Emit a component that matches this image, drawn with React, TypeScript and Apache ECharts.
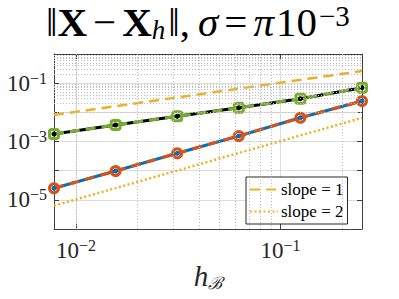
import React, { useEffect, useRef } from 'react';
import * as echarts from 'echarts';

// mesh sizes h_B
const hValues = [1 / 128, 1 / 64, 1 / 32, 1 / 16, 1 / 8, 1 / 4];
// error series
const errBlue = [2.49e-5, 9.75e-5, 3.94e-4, 1.55e-3, 6.55e-3, 2.45e-2];
const errOrange = [2.49e-5, 9.75e-5, 3.94e-4, 1.55e-3, 6.55e-3, 2.45e-2];
const errBlack = [1.81e-3, 3.68e-3, 7.33e-3, 1.44e-2, 2.94e-2, 7.0e-2];
const errGreen = [1.81e-3, 3.68e-3, 7.33e-3, 1.44e-2, 2.94e-2, 7.0e-2];
// reference slopes
const slopeH = [1 / 128, 1 / 4];
const slope1 = [8.1e-3, 0.26];
const slope2 = [6.3e-6, 6.45e-3];
// tick labels (exponents)
const xLabelExps = [-2, -1];
const yLabelExps = [-5, -3, -1];
// minor grid
const minorMantissas = [2, 3, 4, 5, 6, 7, 8, 9];
const xDecadeExps = [-3, -2, -1];
const yDecadeExps = [-6, -5, -4, -3, -2, -1];

const X_MIN = 1 / 128;
const X_MAX = 1 / 4;
const Y_MIN = 1e-6;
const Y_MAX = 1;

const SERIF = '"Liberation Serif", "DejaVu Serif", serif';

function isPow10(v: number) {
  const e = Math.log10(v);
  return Math.abs(e - Math.round(e)) < 1e-6;
}

function minorValues(exps: number[], lo: number, hi: number) {
  const out: number[] = [];
  exps.forEach((e) => {
    minorMantissas.forEach((m) => {
      const v = m * Math.pow(10, e);
      if (v > lo * 1.0001 && v < hi * 0.9999) out.push(v);
    });
  });
  return out;
}

const labelRich = {
  b: { fontFamily: SERIF, fontSize: 23, color: '#262626', lineHeight: 26, verticalAlign: 'middle' },
  s: { fontFamily: SERIF, fontSize: 16, color: '#262626', lineHeight: 14, verticalAlign: 'top' },
};

const T = 41;
const titleBase = { fontFamily: SERIF, fontSize: T, fontWeight: 'normal', color: '#000', lineHeight: 42, verticalAlign: 'middle' };

export default function App() {
  const ref = useRef<HTMLDivElement>(null);
  useEffect(() => {
    if (!ref.current) return;
    const chart = echarts.init(ref.current, null, { renderer: 'svg' });
    const pair = (xs: number[], ys: number[]) => xs.map((x, i) => [x, ys[i]]);
    const xMinor = minorValues(xDecadeExps, X_MIN, X_MAX);
    const yMinor = minorValues(yDecadeExps, Y_MIN, Y_MAX);

    const axisColor = '#404040';
    const gridColor = '#dcdcdc';

    const option: any = {
      animation: false,
      backgroundColor: '#ffffff',
      title: {
        left: 46,
        top: 1,
        padding: 0,
        text: '{n|‖}{b|X}{op|−}{b|X}{sub|h}{n|‖,}{i|σ}{op|=}{p|π}{n|10}{sup|−3}',
        textStyle: {
          fontWeight: 'normal',
          rich: {
            n: { ...titleBase },
            op: { ...titleBase, padding: [0, 6, 0, 6] },
            b: { ...titleBase, fontWeight: 'bold' },
            i: { ...titleBase, fontStyle: 'italic', padding: [0, 0, 0, 8] },
            p: { ...titleBase, fontStyle: 'italic', padding: [0, 2, 0, 0] },
            sub: { ...titleBase, fontSize: 27, fontStyle: 'italic', lineHeight: 14, verticalAlign: 'bottom', padding: [0, 3, 0, 0] },
            sup: { ...titleBase, fontSize: 29, lineHeight: 18, verticalAlign: 'top', padding: [0, 0, 0, 2] },
          },
        },
      },
      grid: { left: 54, top: 54, width: 308, height: 175, containLabel: false, outerBoundsMode: 'none' },
      legend: {
        orient: 'vertical',
        left: 246,
        top: 177,
        padding: [4, 4, 4, 3],
        itemGap: 5,
        itemWidth: 28,
        itemHeight: 16,
        backgroundColor: '#ffffff',
        borderColor: '#262626',
        borderWidth: 1,
        borderRadius: 0,
        data: ['slope = 1', 'slope = 2'],
        textStyle: { fontFamily: SERIF, fontSize: 17, color: '#000', padding: [0, 0, 0, -2] },
      },
      xAxis: [
        {
          type: 'log',
          logBase: 10,
          min: X_MIN,
          max: X_MAX,
          position: 'bottom',
          axisLine: { show: true, onZero: false, lineStyle: { color: axisColor, width: 1 } },
          axisTick: { show: true, inside: true, length: 5, lineStyle: { color: axisColor } },
          axisLabel: {
            margin: 8,
            formatter: (v: number) => {
              if (!isPow10(v)) return '';
              const e = Math.round(Math.log10(v));
              return xLabelExps.includes(e) ? `{b|10}{s|−${-e}}` : '';
            },
            rich: labelRich,
          },
          splitLine: { show: true, lineStyle: { color: gridColor, width: 1 } },
          name: '{i|h}{sub|ℬ}',
          nameLocation: 'middle',
          nameGap: 47,
          nameMoveOverlap: false,
          nameTextStyle: {
            verticalAlign: 'middle',
            rich: {
              i: { fontFamily: SERIF, fontSize: 29, fontStyle: 'italic', color: '#262626', lineHeight: 30, verticalAlign: 'top' },
              sub: { fontFamily: '"DejaVu Serif", serif', fontSize: 17, fontStyle: 'italic', color: '#262626', lineHeight: 12, verticalAlign: 'bottom' },
            },
          },
        },
        {
          type: 'log',
          logBase: 10,
          min: X_MIN,
          max: X_MAX,
          position: 'top',
          axisLine: { show: true, onZero: false, lineStyle: { color: axisColor, width: 1 } },
          axisTick: { show: true, inside: true, length: 5, lineStyle: { color: axisColor } },
          axisLabel: { show: false },
          splitLine: { show: false },
        },
      ],
      yAxis: [
        {
          type: 'log',
          logBase: 10,
          min: Y_MIN,
          max: Y_MAX,
          position: 'left',
          axisLine: { show: true, onZero: false, lineStyle: { color: axisColor, width: 1 } },
          axisTick: { show: true, inside: true, length: 5, lineStyle: { color: axisColor } },
          axisLabel: {
            margin: 7,
            formatter: (v: number) => {
              if (!isPow10(v)) return '';
              const e = Math.round(Math.log10(v));
              return yLabelExps.includes(e) ? `{b|10}{s|−${-e}}` : '';
            },
            rich: labelRich,
          },
          splitLine: { show: true, lineStyle: { color: gridColor, width: 1 } },
        },
        {
          type: 'log',
          logBase: 10,
          min: Y_MIN,
          max: Y_MAX,
          position: 'right',
          axisLine: { show: true, onZero: false, lineStyle: { color: axisColor, width: 1 } },
          axisTick: { show: true, inside: true, length: 5, lineStyle: { color: axisColor } },
          axisLabel: { show: false },
          splitLine: { show: false },
        },
      ],
      series: [
        {
          name: 'minor-grid',
          type: 'line',
          data: pair(slopeH, slope1),
          symbol: 'none',
          lineStyle: { opacity: 0 },
          silent: true,
          z: 1,
          markLine: {
            silent: true,
            symbol: 'none',
            label: { show: false },
            lineStyle: { type: [1, 2], color: '#bdbdbd', width: 1 },
            data: [
              ...xMinor.map((v) => ({ xAxis: v })),
              ...yMinor.map((v) => ({ yAxis: v })),
            ],
          },
        },
        {
          name: 'slope = 1',
          type: 'line',
          data: pair(slopeH, slope1),
          symbol: 'none',
          itemStyle: { color: '#EDB120', opacity: 0 },
          lineStyle: { color: '#EDB120', width: 2.5, type: [10, 6] },
        },
        {
          name: 'slope = 2',
          type: 'line',
          data: pair(slopeH, slope2),
          symbol: 'none',
          itemStyle: { color: '#EDB120', opacity: 0 },
          lineStyle: { color: '#EDB120', width: 2.5, type: [2, 2.5] },
        },
        {
          name: 'blue',
          type: 'line',
          data: pair(hValues, errBlue),
          symbol: 'circle',
          symbolSize: 5,
          itemStyle: { color: '#0072BD' },
          lineStyle: { color: '#0072BD', width: 3 },
        },
        {
          name: 'orange',
          type: 'line',
          data: pair(hValues, errOrange),
          symbol: 'circle',
          symbolSize: 9,
          itemStyle: { color: 'rgba(0,0,0,0)', borderColor: '#D95319', borderWidth: 3 },
          lineStyle: { color: '#D95319', width: 3, type: [10, 6] },
        },
        {
          name: 'black',
          type: 'line',
          data: pair(hValues, errBlack),
          symbol: 'circle',
          symbolSize: 5,
          itemStyle: { color: '#000000' },
          lineStyle: { color: '#000000', width: 3 },
        },
        {
          name: 'green',
          type: 'line',
          data: pair(hValues, errGreen),
          symbol: 'roundRect',
          symbolSize: 9,
          itemStyle: { color: 'rgba(0,0,0,0)', borderColor: '#77AC30', borderWidth: 3 },
          lineStyle: { color: '#77AC30', width: 3, type: [10, 6] },
        },
      ],
    };
    chart.setOption(option);
    return () => chart.dispose();
  }, []);
  return (
    <div
      ref={ref}
      style={{ position: 'fixed', left: 0, top: 0, width: 399, height: 299, background: '#fff' }}
    />
  );
}
